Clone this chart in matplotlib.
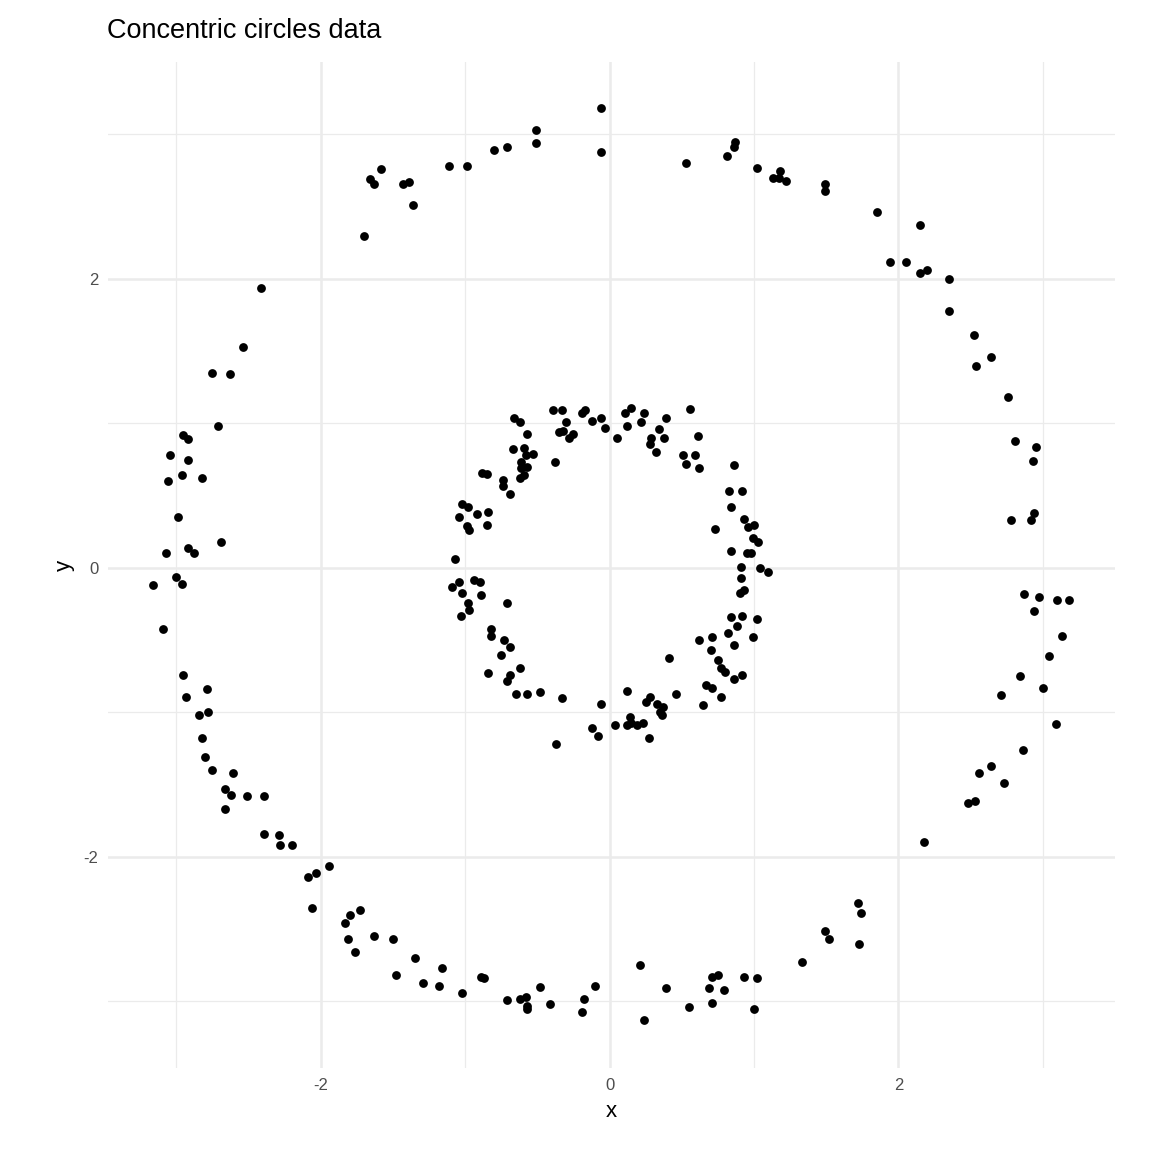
import numpy as np
import matplotlib.pyplot as plt

plt.rcParams["font.family"] = ["Liberation Sans", "DejaVu Sans"]
plt.rcParams["axes.unicode_minus"] = False

# outer ring points
outer_x = [-0.06, -0.06, -0.51, -0.51, -0.71, -0.80, -0.99, -1.11, -1.36, -1.39, -1.43, -1.58,
           -1.63, -1.66, -1.70, -2.41, -2.54, -2.75, -2.63, -2.71, -2.95, -2.92, -3.04, -2.92,
           -2.82, -2.96, -3.06, -2.99, -2.69, -2.92, -2.88, -3.07, -3.00, -2.96, -3.16, -3.09,
           -2.95, -2.93, -2.79, -2.84, -2.78, -2.82, -2.80, -2.75, -2.61, -2.66, -2.62, -2.66,
           -2.51, -2.39, -2.39, -2.29, -2.28, -2.20, -2.09, -2.03, -1.94, -2.06, -1.80, -1.73,
           -1.83, -1.81, -1.76, -1.63, -1.50, -1.48, -1.35, -1.29, -1.16, -1.18, -1.02, -0.89,
           -0.87, -0.71, -0.62, -0.58, -0.48, -0.57, -0.57, -0.41, -0.19, -0.18, -0.10, 0.21,
           0.24, 0.39, 0.55, 0.69, 0.71, 0.71, 0.75, 0.79, 0.93, 1.00, 1.02, 1.33, 1.49, 1.52,
           1.72, 1.74, 1.73, 2.18, 2.48, 2.53, 2.56, 2.64, 2.73, 2.86, 2.71, 2.84, 3.00, 3.09,
           3.04, 3.13, 2.87, 2.94, 2.97, 3.10, 3.18, 2.78, 2.92, 2.94, 2.93, 2.95, 2.81, 2.76,
           2.64, 2.52, 2.54, 2.35, 2.35, 2.20, 2.15, 2.15, 2.05, 1.94, 1.85, 1.49, 1.49, 1.22,
           1.18, 1.17, 1.13, 1.02, 0.87, 0.86, 0.81, 0.53]
outer_y = [3.18, 2.88, 3.03, 2.94, 2.91, 2.89, 2.78, 2.78, 2.51, 2.67, 2.66, 2.76,
           2.66, 2.69, 2.30, 1.94, 1.53, 1.35, 1.34, 0.98, 0.92, 0.89, 0.78, 0.75,
           0.62, 0.64, 0.60, 0.35, 0.18, 0.14, 0.10, 0.10, -0.06, -0.11, -0.12, -0.42,
           -0.74, -0.89, -0.84, -1.02, -1.00, -1.18, -1.31, -1.40, -1.42, -1.53, -1.57, -1.67,
           -1.58, -1.58, -1.84, -1.85, -1.92, -1.92, -2.14, -2.11, -2.06, -2.35, -2.40, -2.37,
           -2.46, -2.57, -2.66, -2.55, -2.57, -2.82, -2.70, -2.87, -2.77, -2.89, -2.94, -2.83,
           -2.84, -2.99, -2.98, -2.97, -2.90, -3.03, -3.05, -3.02, -3.07, -2.98, -2.89, -2.75,
           -3.13, -2.91, -3.04, -2.91, -2.83, -3.01, -2.82, -2.92, -2.83, -3.05, -2.84, -2.73,
           -2.51, -2.57, -2.32, -2.39, -2.60, -1.90, -1.63, -1.61, -1.42, -1.37, -1.49, -1.26,
           -0.88, -0.75, -0.83, -1.08, -0.61, -0.47, -0.18, -0.30, -0.20, -0.22, -0.22, 0.33,
           0.33, 0.38, 0.74, 0.84, 0.88, 1.18, 1.46, 1.61, 1.40, 1.78, 2.00, 2.06, 2.37, 2.04,
           2.12, 2.12, 2.46, 2.66, 2.61, 2.68, 2.75, 2.70, 2.70, 2.77, 2.95, 2.91, 2.85, 2.80]

# inner ring points
inner_x = [-0.39, -0.33, -0.35, -0.32, -0.28, -0.25, -0.30, -0.19, -0.17, -0.12, -0.03, -0.06,
           0.05, 0.11, 0.15, 0.12, 0.22, 0.24, 0.28, 0.29, 0.32, 0.34, 0.39, 0.38, 0.56, 0.61,
           0.51, 0.59, 0.53, 0.62, 0.86, 0.83, 0.92, 0.84, 0.93, 0.96, 1.00, 0.73, 0.99, 1.03,
           0.84, 0.95, 0.98, 1.04, 1.10, 0.91, 0.91, 0.93, 0.90, 1.02, 0.92, 0.84, 0.88, 0.82,
           0.99, 0.62, 0.71, 0.86, 0.70, 0.75, 0.77, 0.80, 0.92, 0.86, 0.67, 0.71, 0.77, 0.65,
           0.41, 0.46, 0.37, 0.35, 0.33, 0.28, 0.25, 0.36, 0.12, 0.14, 0.15, 0.19, 0.12, 0.23,
           0.27, 0.04, -0.06, -0.12, -0.08, -0.33, -0.37, -0.48, -0.57, -0.65, -0.62, -0.71,
           -0.69, -0.73, -0.69, -0.75, -0.84, -0.82, -0.82, -0.71, -0.89, -0.90, -0.94, -0.98,
           -0.97, -1.02, -1.03, -1.09, -1.04, -1.07, -0.97, -0.99, -1.04, -1.02, -0.98, -0.92,
           -0.85, -0.84, -0.88, -0.85, -0.74, -0.74, -0.69, -0.66, -0.62, -0.57, -0.67, -0.61,
           -0.59, -0.58, -0.59, -0.61, -0.57, -0.62, -0.53, -0.38]
inner_y = [1.09, 1.09, 0.94, 0.95, 0.90, 0.93, 1.01, 1.07, 1.09, 1.02, 0.97, 1.04,
           0.90, 1.07, 1.11, 0.98, 1.01, 1.07, 0.86, 0.90, 0.80, 0.96, 1.04, 0.90, 1.10, 0.91,
           0.78, 0.78, 0.72, 0.69, 0.71, 0.53, 0.53, 0.42, 0.34, 0.28, 0.30, 0.27, 0.21, 0.18,
           0.12, 0.10, 0.10, 0.00, -0.03, 0.01, -0.07, -0.15, -0.17, -0.35, -0.33, -0.34, -0.40, -0.45,
           -0.48, -0.50, -0.48, -0.53, -0.57, -0.64, -0.69, -0.72, -0.74, -0.77, -0.81, -0.83, -0.89, -0.95,
           -0.62, -0.87, -0.96, -1.00, -0.94, -0.89, -0.93, -1.02, -0.85, -1.03, -1.07, -1.09, -1.09, -1.07,
           -1.18, -1.09, -0.94, -1.11, -1.16, -0.90, -1.22, -0.86, -0.87, -0.87, -0.69, -0.78,
           -0.74, -0.50, -0.55, -0.60, -0.73, -0.42, -0.47, -0.24, -0.19, -0.10, -0.08, -0.24,
           -0.29, -0.17, -0.33, -0.13, -0.10, 0.06, 0.26, 0.29, 0.35, 0.44, 0.42, 0.37,
           0.30, 0.39, 0.66, 0.65, 0.61, 0.57, 0.51, 1.04, 1.01, 0.93, 0.82, 0.73,
           0.83, 0.78, 0.64, 0.69, 0.70, 0.62, 0.79, 0.73]

x = np.array(outer_x + inner_x)
y = np.array(outer_y + inner_y)

fig = plt.figure(figsize=(11.52, 11.52), dpi=100)
ax = fig.add_axes([0.094, 0.073, 0.874, 0.873])

ax.set_xlim(-3.47, 3.50)
ax.set_ylim(-3.46, 3.50)
ax.set_xticks([-2, 0, 2])
ax.set_yticks([-2, 0, 2])
ax.set_xticks([-3, -1, 1, 3], minor=True)
ax.set_yticks([-3, -1, 1, 3], minor=True)
ax.grid(which="major", color="#EBEBEB", linewidth=1.8)
ax.grid(which="minor", color="#EBEBEB", linewidth=0.9)
ax.set_axisbelow(True)
for s in ax.spines.values():
    s.set_visible(False)
ax.tick_params(which="both", length=0, labelsize=12, labelcolor="#4D4D4D", pad=7)

ax.scatter(x, y, s=40, color="black", linewidths=0)

ax.set_xlabel("x", fontsize=16, labelpad=6)
ax.set_ylabel("y", fontsize=16, labelpad=6)
fig.text(0.093, 0.962, "Concentric circles data", fontsize=19.5, va="bottom", ha="left")

fig.savefig("out.png", dpi=100, facecolor="white")
